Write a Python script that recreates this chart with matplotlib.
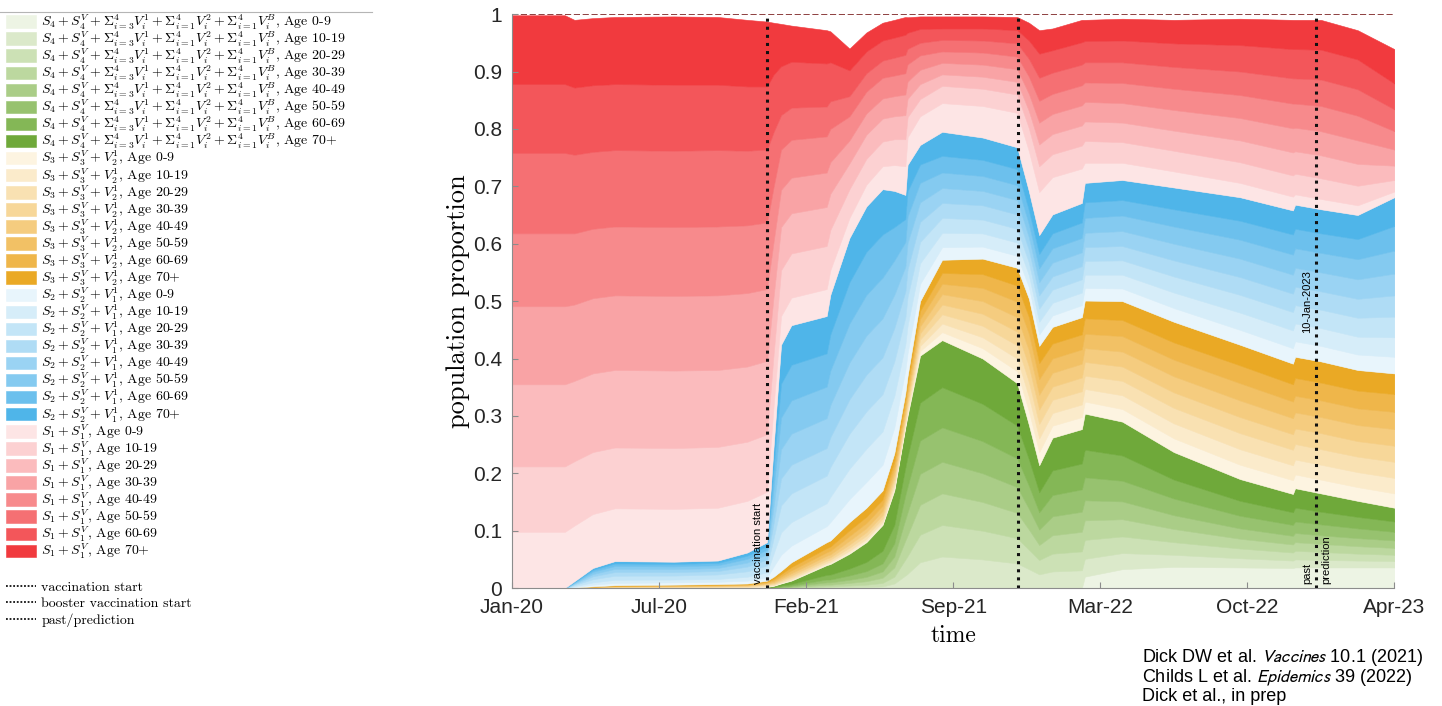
#Stacked area plot of population proportions by immunity group and age, with a side legend

import numpy as np
import matplotlib
matplotlib.use("Agg")
import matplotlib.pyplot as plt
from matplotlib.lines import Line2D

plt.rcParams['mathtext.fontset'] = 'cm'
plt.rcParams['axes.formatter.use_mathtext'] = True

#days since 10-Jan-2020
days = [0, 72, 85, 110, 140, 220, 280, 320, 347, 356, 366, 380, 428, 433, 459, 482, 504, 520,
        535, 538, 555, 585, 640, 687, 703, 717, 735, 775, 779, 830, 900, 990, 1062, 1065,
        1100, 1150, 1200]

ages = ['0-9', '10-19', '20-29', '30-39', '40-49', '50-59', '60-69', '70+']

#each row is one time point, each column one age group (thickness of the layer)
green = [
    [0, 0, 0, 0, 0, 0, 0, 0],
    [0, 0, 0, 0, 0, 0, 0, 0],
    [0, 0, 0, 0, 0, 0, 0, 0],
    [0, 0, 0, 0, 0, 0, 0, 0],
    [0, 0, 0, 0, 0, 0, 0, 0],
    [0, 0, 0, 0, 0, 0, 0, 0],
    [0, 0, 0, 0, 0, 0, 0, 0],
    [0, 0, 0, 0, 0, 0, 0, 0],
    [0, 0, 0.0001, 0.0001, 0.0002, 0.0003, 0.0004, 0.0009],
    [0, 0.0001, 0.0002, 0.0003, 0.0004, 0.0006, 0.0008, 0.0016],
    [0, 0.0002, 0.0004, 0.0006, 0.0007, 0.001, 0.0016, 0.0035],
    [0, 0.0003, 0.0006, 0.0009, 0.0012, 0.0016, 0.0026, 0.0058],
    [0, 0.001, 0.002, 0.003, 0.004, 0.005, 0.008, 0.017],
    [0, 0.001, 0.002, 0.003, 0.004, 0.005, 0.0085, 0.0185],
    [0, 0.0015, 0.003, 0.0045, 0.0055, 0.0075, 0.012, 0.026],
    [0, 0.002, 0.004, 0.006, 0.0075, 0.01, 0.016, 0.0345],
    [0, 0.003, 0.006, 0.009, 0.011, 0.014, 0.022, 0.045],
    [0, 0.008, 0.012, 0.016, 0.019, 0.023, 0.032, 0.06],
    [0, 0.022, 0.028, 0.033, 0.037, 0.042, 0.048, 0.07],
    [0, 0.025, 0.031, 0.036, 0.04, 0.045, 0.052, 0.071],
    [0, 0.045, 0.048, 0.052, 0.054, 0.058, 0.066, 0.082],
    [0, 0.055, 0.055, 0.055, 0.055, 0.06, 0.07, 0.082],
    [0, 0.05, 0.05, 0.05, 0.05, 0.056, 0.065, 0.079],
    [0, 0.043, 0.044, 0.044, 0.045, 0.05, 0.057, 0.074],
    [0, 0.033, 0.034, 0.035, 0.036, 0.04, 0.046, 0.06],
    [0, 0.024, 0.025, 0.026, 0.027, 0.03, 0.035, 0.047],
    [0, 0.029, 0.031, 0.032, 0.033, 0.037, 0.043, 0.057],
    [0, 0.031, 0.033, 0.034, 0.035, 0.039, 0.045, 0.06],
    [0.02, 0.031, 0.033, 0.034, 0.035, 0.04, 0.048, 0.063],
    [0.033, 0.028, 0.029, 0.03, 0.031, 0.036, 0.044, 0.059],
    [0.037, 0.021, 0.022, 0.023, 0.024, 0.029, 0.033, 0.048],
    [0.036, 0.016, 0.017, 0.017, 0.018, 0.022, 0.026, 0.038],
    [0.035, 0.013, 0.014, 0.014, 0.015, 0.019, 0.022, 0.032],
    [0.036, 0.014, 0.015, 0.015, 0.016, 0.02, 0.024, 0.034],
    [0.036, 0.013, 0.014, 0.014, 0.015, 0.019, 0.022, 0.032],
    [0.036, 0.012, 0.012, 0.013, 0.014, 0.017, 0.02, 0.028],
    [0.036, 0.011, 0.011, 0.012, 0.013, 0.015, 0.018, 0.024],
]

yellow = [
    [0, 0, 0, 0, 0, 0, 0, 0],
    [0, 0, 0, 0, 0, 0, 0, 0],
    [0.0001, 0.0001, 0.0002, 0.0001, 0.0001, 0.0001, 0.0001, 0.0002],
    [0.0003, 0.0003, 0.0005, 0.0004, 0.0004, 0.0004, 0.0003, 0.0004],
    [0.0005, 0.0006, 0.0008, 0.0007, 0.0006, 0.0006, 0.0005, 0.0007],
    [0.0006, 0.0007, 0.001, 0.0008, 0.0007, 0.0007, 0.0007, 0.0008],
    [0.0007, 0.0008, 0.0012, 0.0009, 0.0008, 0.0009, 0.0008, 0.0009],
    [0.0008, 0.0009, 0.0013, 0.001, 0.001, 0.001, 0.0009, 0.0011],
    [0.001, 0.0012, 0.0017, 0.0014, 0.0013, 0.0014, 0.0013, 0.0017],
    [0.0008, 0.001, 0.0015, 0.0016, 0.0019, 0.0024, 0.0029, 0.0039],
    [0.001, 0.0013, 0.002, 0.0022, 0.0026, 0.0033, 0.004, 0.0056],
    [0.0013, 0.0019, 0.0029, 0.0032, 0.0038, 0.0048, 0.0058, 0.0083],
    [0.0016, 0.0024, 0.0036, 0.004, 0.0048, 0.006, 0.0072, 0.0104],
    [0.0016, 0.0025, 0.0037, 0.0041, 0.0049, 0.0062, 0.0074, 0.0106],
    [0.0022, 0.0033, 0.005, 0.0055, 0.0066, 0.0082, 0.0099, 0.0143],
    [0.0024, 0.0036, 0.0054, 0.006, 0.0072, 0.009, 0.0108, 0.0156],
    [0.0024, 0.0036, 0.0054, 0.006, 0.0072, 0.009, 0.0108, 0.0156],
    [0.004, 0.005, 0.007, 0.007, 0.008, 0.009, 0.011, 0.014],
    [0.004, 0.005, 0.0065, 0.0065, 0.0075, 0.0085, 0.01, 0.012],
    [0.005, 0.006, 0.0075, 0.0075, 0.0085, 0.0095, 0.0115, 0.014],
    [0.008, 0.009, 0.011, 0.011, 0.012, 0.013, 0.014, 0.017],
    [0.014, 0.015, 0.016, 0.017, 0.018, 0.018, 0.019, 0.023],
    [0.018, 0.019, 0.02, 0.021, 0.022, 0.023, 0.024, 0.027],
    [0.021, 0.022, 0.023, 0.024, 0.025, 0.027, 0.028, 0.031],
    [0.024, 0.025, 0.026, 0.027, 0.028, 0.029, 0.029, 0.032],
    [0.023, 0.024, 0.025, 0.025, 0.026, 0.027, 0.028, 0.03],
    [0.021, 0.022, 0.023, 0.023, 0.024, 0.025, 0.026, 0.029],
    [0.021, 0.022, 0.023, 0.024, 0.024, 0.025, 0.026, 0.03],
    [0.021, 0.022, 0.023, 0.024, 0.024, 0.025, 0.027, 0.031],
    [0.022, 0.024, 0.025, 0.025, 0.026, 0.027, 0.028, 0.033],
    [0.024, 0.026, 0.027, 0.027, 0.028, 0.029, 0.03, 0.036],
    [0.025, 0.027, 0.028, 0.028, 0.029, 0.03, 0.031, 0.036],
    [0.024, 0.026, 0.027, 0.027, 0.028, 0.029, 0.03, 0.036],
    [0.024, 0.026, 0.027, 0.027, 0.028, 0.029, 0.031, 0.037],
    [0.024, 0.026, 0.027, 0.028, 0.028, 0.029, 0.031, 0.037],
    [0.024, 0.026, 0.027, 0.027, 0.028, 0.029, 0.031, 0.036],
    [0.025, 0.027, 0.028, 0.028, 0.029, 0.03, 0.031, 0.036],
]

blue = [
    [0, 0, 0, 0, 0, 0, 0, 0],
    [0, 0, 0, 0, 0, 0, 0, 0],
    [0.001, 0.0015, 0.002, 0.0015, 0.0015, 0.0013, 0.0011, 0.0011],
    [0.003, 0.004, 0.0055, 0.005, 0.004, 0.004, 0.0033, 0.0032],
    [0.004, 0.0055, 0.007, 0.0065, 0.0055, 0.005, 0.0043, 0.0042],
    [0.004, 0.005, 0.0068, 0.006, 0.0052, 0.0048, 0.0041, 0.0041],
    [0.004, 0.005, 0.0078, 0.006, 0.0052, 0.0048, 0.0041, 0.0041],
    [0.005, 0.0068, 0.0095, 0.0082, 0.007, 0.0065, 0.0055, 0.0055],
    [0.006, 0.0085, 0.012, 0.0105, 0.0088, 0.008, 0.0067, 0.0065],
    [0.018, 0.023, 0.027, 0.027, 0.03, 0.032, 0.035, 0.038],
    [0.028, 0.039, 0.047, 0.047, 0.051, 0.055, 0.059, 0.068],
    [0.029, 0.041, 0.05, 0.05, 0.054, 0.058, 0.062, 0.069],
    [0.028, 0.04, 0.048, 0.048, 0.052, 0.055, 0.058, 0.065],
    [0.032, 0.044, 0.052, 0.052, 0.056, 0.06, 0.063, 0.069],
    [0.04, 0.053, 0.061, 0.06, 0.064, 0.068, 0.072, 0.077],
    [0.045, 0.058, 0.065, 0.064, 0.068, 0.071, 0.075, 0.079],
    [0.045, 0.058, 0.065, 0.064, 0.068, 0.071, 0.075, 0.079],
    [0.045, 0.055, 0.06, 0.058, 0.058, 0.06, 0.058, 0.063],
    [0.04, 0.045, 0.047, 0.045, 0.043, 0.043, 0.04, 0.042],
    [0.04, 0.048, 0.05, 0.048, 0.046, 0.046, 0.044, 0.046],
    [0.03, 0.036, 0.037, 0.035, 0.034, 0.034, 0.032, 0.034],
    [0.022, 0.025, 0.026, 0.026, 0.026, 0.027, 0.029, 0.042],
    [0.021, 0.023, 0.024, 0.025, 0.025, 0.026, 0.028, 0.039],
    [0.021, 0.023, 0.024, 0.025, 0.025, 0.026, 0.028, 0.038],
    [0.02, 0.021, 0.022, 0.022, 0.022, 0.023, 0.024, 0.033],
    [0.02, 0.022, 0.023, 0.023, 0.023, 0.024, 0.025, 0.033],
    [0.02, 0.022, 0.023, 0.023, 0.024, 0.025, 0.026, 0.033],
    [0.021, 0.022, 0.023, 0.023, 0.024, 0.025, 0.027, 0.034],
    [0.022, 0.023, 0.024, 0.024, 0.025, 0.026, 0.027, 0.034],
    [0.022, 0.024, 0.025, 0.025, 0.026, 0.027, 0.027, 0.035],
    [0.024, 0.027, 0.028, 0.028, 0.029, 0.03, 0.03, 0.038],
    [0.026, 0.03, 0.031, 0.031, 0.032, 0.033, 0.033, 0.041],
    [0.027, 0.031, 0.032, 0.032, 0.033, 0.035, 0.035, 0.042],
    [0.027, 0.031, 0.032, 0.032, 0.033, 0.034, 0.034, 0.042],
    [0.027, 0.031, 0.032, 0.032, 0.033, 0.034, 0.034, 0.042],
    [0.027, 0.031, 0.033, 0.033, 0.034, 0.035, 0.035, 0.042],
    [0.029, 0.034, 0.036, 0.037, 0.038, 0.04, 0.043, 0.05],
]

red = [
    [0.098, 0.114, 0.143, 0.136, 0.127, 0.14, 0.12, 0.12],
    [0.098, 0.114, 0.143, 0.136, 0.127, 0.14, 0.12, 0.12],
    [0.097, 0.112, 0.14, 0.133, 0.124, 0.137, 0.117, 0.118],
    [0.094, 0.108, 0.137, 0.131, 0.121, 0.134, 0.116, 0.117],
    [0.092, 0.106, 0.135, 0.13, 0.12, 0.133, 0.115, 0.117],
    [0.092, 0.106, 0.135, 0.13, 0.12, 0.133, 0.115, 0.119],
    [0.092, 0.106, 0.134, 0.13, 0.12, 0.133, 0.114, 0.118],
    [0.09, 0.103, 0.131, 0.128, 0.118, 0.13, 0.112, 0.116],
    [0.088, 0.1, 0.128, 0.125, 0.116, 0.127, 0.11, 0.113],
    [0.07, 0.09, 0.1, 0.095, 0.095, 0.095, 0.1, 0.09],
    [0.05, 0.08, 0.075, 0.065, 0.07, 0.06, 0.085, 0.074],
    [0.048, 0.077, 0.07, 0.062, 0.066, 0.056, 0.08, 0.063],
    [0.047, 0.075, 0.068, 0.06, 0.063, 0.052, 0.075, 0.058],
    [0.043, 0.07, 0.063, 0.055, 0.058, 0.048, 0.068, 0.054],
    [0.035, 0.05, 0.045, 0.04, 0.042, 0.035, 0.045, 0.038],
    [0.038, 0.045, 0.042, 0.037, 0.038, 0.032, 0.038, 0.033],
    [0.04, 0.043, 0.04, 0.035, 0.036, 0.03, 0.035, 0.031],
    [0.045, 0.045, 0.04, 0.035, 0.036, 0.031, 0.035, 0.031],
    [0.05, 0.047, 0.042, 0.036, 0.037, 0.032, 0.035, 0.031],
    [0.048, 0.035, 0.032, 0.03, 0.03, 0.027, 0.028, 0.027],
    [0.05, 0.03, 0.026, 0.025, 0.025, 0.022, 0.024, 0.022],
    [0.05, 0.03, 0.02, 0.02, 0.02, 0.02, 0.02, 0.021],
    [0.055, 0.03, 0.021, 0.021, 0.021, 0.021, 0.021, 0.021],
    [0.06, 0.032, 0.022, 0.022, 0.022, 0.023, 0.023, 0.023],
    [0.07, 0.04, 0.03, 0.03, 0.03, 0.031, 0.032, 0.031],
    [0.075, 0.045, 0.038, 0.038, 0.038, 0.04, 0.042, 0.041],
    [0.065, 0.04, 0.035, 0.035, 0.035, 0.037, 0.039, 0.038],
    [0.06, 0.04, 0.035, 0.035, 0.035, 0.036, 0.039, 0.039],
    [0.035, 0.038, 0.034, 0.034, 0.034, 0.035, 0.037, 0.037],
    [0.03, 0.036, 0.034, 0.034, 0.035, 0.036, 0.038, 0.038],
    [0.028, 0.036, 0.035, 0.036, 0.037, 0.038, 0.041, 0.041],
    [0.025, 0.036, 0.038, 0.039, 0.04, 0.041, 0.046, 0.046],
    [0.024, 0.037, 0.04, 0.042, 0.043, 0.044, 0.051, 0.051],
    [0.018, 0.036, 0.039, 0.041, 0.042, 0.044, 0.051, 0.051],
    [0.018, 0.036, 0.04, 0.042, 0.044, 0.046, 0.052, 0.052],
    [0.017, 0.034, 0.038, 0.041, 0.043, 0.046, 0.052, 0.051],
    [0.01, 0.02, 0.025, 0.028, 0.032, 0.038, 0.045, 0.06],
]

#event lines (days) and tick labels
vacc_start = 347
booster_start = 688
past_pred = 1094
tick_days = [0, 200, 400, 600, 800, 1000, 1200]
tick_labels = ['Jan-20', 'Jul-20', 'Feb-21', 'Sep-21', 'Mar-22', 'Oct-22', 'Apr-23']

green_colors = ['#edf4e4', '#dbe9ca', '#cce1b5', '#bcd89f', '#aacd87', '#97c26f', '#84b756', '#6fa93a']
yellow_colors = ['#fdf4e1', '#fbebcb', '#f9e1b2', '#f7d799', '#f5cc7f', '#f2c165', '#efb64a', '#eaa925']
blue_colors = ['#e8f5fc', '#d6edf9', '#c3e5f7', '#afdcf5', '#9ad3f3', '#84caf0', '#6cc0ed', '#4fb5e9']
red_colors = ['#fde5e5', '#fcd1d2', '#fbbbbd', '#f9a3a5', '#f78a8c', '#f57073', '#f3565a', '#f13a3e']

g_text = r'$S_4+S_4^V+\Sigma_{i=3}^{4}V_i^1+\Sigma_{i=1}^{4}V_i^2+\Sigma_{i=1}^{4}V_i^B$, Age '
y_text = r'$S_3+S_3^V+V_2^1$, Age '
b_text = r'$S_2+S_2^V+V_1^1$, Age '
r_text = r'$S_1+S_1^V$, Age '

labels = ([g_text + a for a in ages] + [y_text + a for a in ages] +
          [b_text + a for a in ages] + [r_text + a for a in ages])
line_labels = ['vaccination start', 'booster vaccination start', 'past/prediction']
colors = green_colors + yellow_colors + blue_colors + red_colors

#all layers stacked from the bottom: green, yellow, blue, red
layers = np.hstack([np.array(green), np.array(yellow), np.array(blue), np.array(red)]).T

fig = plt.figure(figsize=(14.42, 7.06), dpi=100)
ax = fig.add_axes([0.355, 0.167, 0.612, 0.813])

polys = ax.stackplot(days, layers, colors=colors)
for p, c in zip(polys, colors):
    p.set_edgecolor(c)
    p.set_linewidth(0.4)

#line at full population
ax.axhline(1.0, color='#7a1f1f', linestyle='--', linewidth=1.2)

#event lines
ax.axvline(vacc_start, color='#111111', linestyle=':', linewidth=2.2)
ax.axvline(booster_start, color='#111111', linestyle=':', linewidth=2.2)
ax.axvline(past_pred, color='#111111', linestyle=':', linewidth=2.2)

sans = ['Liberation Sans', 'DejaVu Sans']
ax.text(vacc_start - 6, 0.008, 'vaccination start', rotation=90, ha='right', va='bottom',
        fontsize=8, family=sans)
ax.text(past_pred - 6, 0.008, 'past', rotation=90, ha='right', va='bottom', fontsize=8, family=sans)
ax.text(past_pred + 7, 0.008, 'prediction', rotation=90, ha='left', va='bottom', fontsize=8, family=sans)
ax.text(past_pred - 6, 0.445, '10-Jan-2023', rotation=90, ha='right', va='bottom', fontsize=8, family=sans)

ax.set_xlim(0, 1200)
ax.set_ylim(0, 1)
ax.set_xticks(tick_days)
ax.set_xticklabels(tick_labels)
ax.set_yticks(np.arange(0, 1.01, 0.1))
ax.set_yticklabels(['0', '0.1', '0.2', '0.3', '0.4', '0.5', '0.6', '0.7', '0.8', '0.9', '1'])
for lab in ax.get_xticklabels() + ax.get_yticklabels():
    lab.set_family(sans)
    lab.set_fontsize(15)
    lab.set_color('#262626')
ax.tick_params(direction='in', length=4, color='#8c8c8c', pad=7)
ax.set_axisbelow(False)
for s in ['top', 'right']:
    ax.spines[s].set_visible(False)
for s in ['left', 'bottom']:
    ax.spines[s].set_color('#8c8c8c')
    ax.spines[s].set_linewidth(0.8)

ax.set_xlabel('time', family='cmr10', fontsize=17, labelpad=6)
ax.set_ylabel('population proportion', family='cmr10', fontsize=19, labelpad=2)

#legend on the left side of the figure: the area layers, then the event lines
fig.legend(list(polys), labels, loc='upper left', bbox_to_anchor=(0.004, 0.982), frameon=False,
           prop={'family': 'cmr10', 'size': 10}, handlelength=2.2, handleheight=1.0,
           handletextpad=0.35, labelspacing=-0.15, borderpad=0, borderaxespad=0)
line_handles = [Line2D([], [], color='#111111', linestyle=(0, (1, 1)), linewidth=1.3) for _ in line_labels]
fig.legend(line_handles, line_labels, loc='upper left', bbox_to_anchor=(0.004, 0.177), frameon=False,
           prop={'family': 'cmr10', 'size': 10}, handlelength=2.2, handletextpad=0.35,
           labelspacing=0.25, borderpad=0, borderaxespad=0)
fig.add_artist(Line2D([0.0, 0.258], [0.983, 0.983], transform=fig.transFigure,
                      color='#b5b5b5', linewidth=0.8))

#references
fig.text(0.792, 0.069, r'Dick DW et al. $\mathit{Vaccines}$ 10.1 (2021)', fontsize=13,
         family=sans, math_fontfamily='stixsans', va='center')
fig.text(0.792, 0.040, r'Childs L et al. $\mathit{Epidemics}$ 39 (2022)', fontsize=13,
         family=sans, math_fontfamily='stixsans', va='center')
fig.text(0.792, 0.013, 'Dick et al., in prep', fontsize=13, family=sans, va='center')

plt.savefig('out.png', dpi=100)
